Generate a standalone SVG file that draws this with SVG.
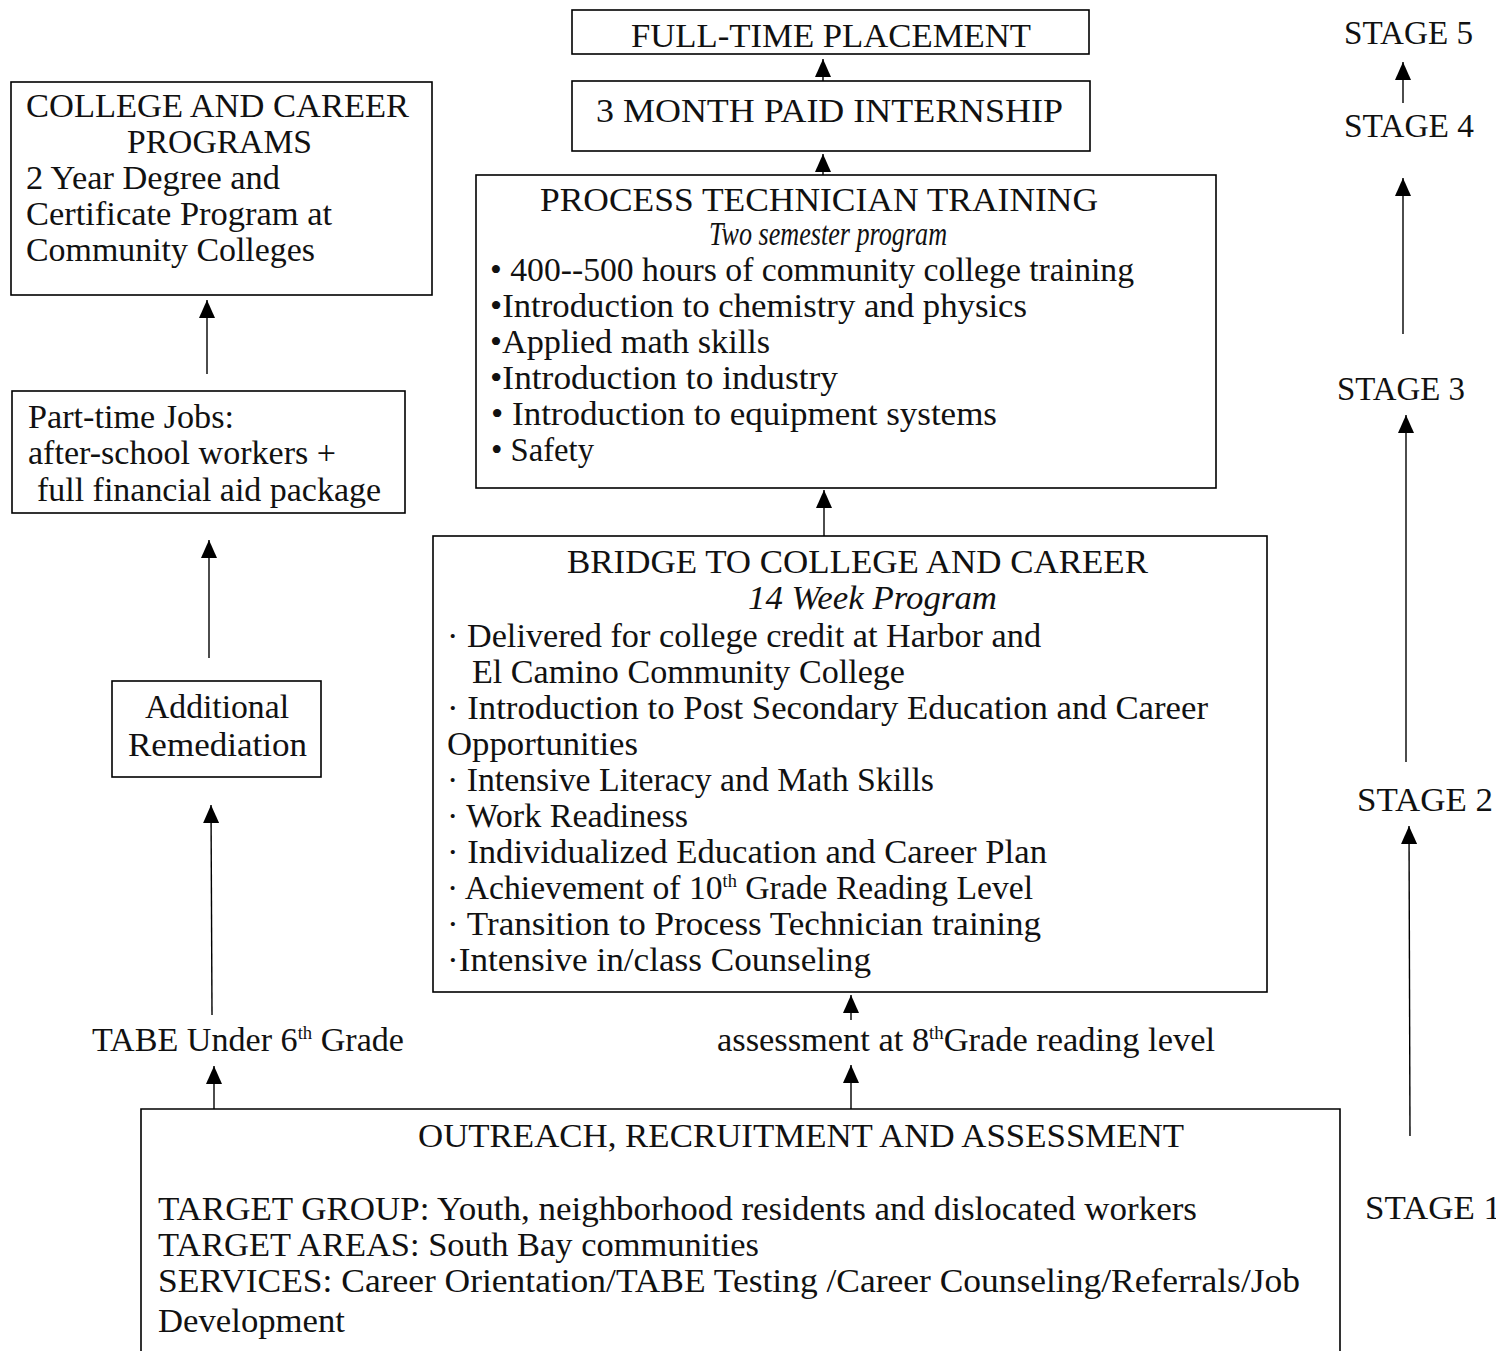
<svg xmlns="http://www.w3.org/2000/svg" width="1496" height="1351" viewBox="0 0 1496 1351">
<defs>
<style>
.box{fill:none;stroke:#000;stroke-width:1.6}
.t{font-family:"Liberation Serif","Times New Roman",serif;font-size:33px;fill:#111}
.it{font-style:italic}
.ln{stroke:#000;stroke-width:1.4;fill:none}
.sup{font-size:18px}
</style>
<marker id="ah" viewBox="0 0 18 16" refX="18" refY="8" markerWidth="18" markerHeight="16" markerUnits="userSpaceOnUse" orient="auto">
<path d="M0,0 L18,8 L0,16 z" fill="#000"/>
</marker>
</defs>
<rect width="1496" height="1351" fill="#fff"/>

<g id="full-time">
<rect class="box" x="572" y="10" width="517" height="44"/>
<text class="t" x="631" y="47" textLength="400" lengthAdjust="spacingAndGlyphs">FULL-TIME PLACEMENT</text>
</g>

<g id="internship">
<rect class="box" x="572" y="81" width="518" height="70"/>
<text class="t" x="596" y="122" textLength="467" lengthAdjust="spacingAndGlyphs">3 MONTH PAID INTERNSHIP</text>
</g>

<g id="process-tech">
<rect class="box" x="476" y="175" width="740" height="313"/>
<text class="t" x="540" y="211" textLength="558" lengthAdjust="spacingAndGlyphs">PROCESS TECHNICIAN TRAINING</text>
<text class="t it" x="709" y="245" font-size="26" textLength="238" lengthAdjust="spacingAndGlyphs">Two semester program</text>
<text class="t" x="490" y="281" textLength="644" lengthAdjust="spacingAndGlyphs">• 400--500 hours of community college training</text>
<text class="t" x="490" y="317" textLength="537" lengthAdjust="spacingAndGlyphs">•Introduction to chemistry and physics</text>
<text class="t" x="490" y="353" textLength="280" lengthAdjust="spacingAndGlyphs">•Applied math skills</text>
<text class="t" x="490" y="389" textLength="348" lengthAdjust="spacingAndGlyphs">•Introduction to industry</text>
<text class="t" x="491" y="425" textLength="506" lengthAdjust="spacingAndGlyphs">• Introduction to equipment systems</text>
<text class="t" x="491" y="461" textLength="103" lengthAdjust="spacingAndGlyphs">• Safety</text>
</g>

<g id="college-career">
<rect class="box" x="11" y="82" width="421" height="213"/>
<text class="t" x="26" y="117" textLength="383" lengthAdjust="spacingAndGlyphs">COLLEGE AND CAREER</text>
<text class="t" x="127" y="153" textLength="185" lengthAdjust="spacingAndGlyphs">PROGRAMS</text>
<text class="t" x="26" y="189" textLength="254" lengthAdjust="spacingAndGlyphs">2 Year Degree and</text>
<text class="t" x="26" y="225" textLength="306" lengthAdjust="spacingAndGlyphs">Certificate Program at</text>
<text class="t" x="26" y="261" textLength="289" lengthAdjust="spacingAndGlyphs">Community Colleges</text>
</g>

<g id="part-time">
<rect class="box" x="12" y="391" width="393" height="122"/>
<text class="t" x="28" y="428" textLength="206" lengthAdjust="spacingAndGlyphs">Part-time Jobs:</text>
<text class="t" x="28" y="464" textLength="308" lengthAdjust="spacingAndGlyphs">after-school workers +</text>
<text class="t" x="37" y="501" textLength="344" lengthAdjust="spacingAndGlyphs">full financial aid package</text>
</g>

<g id="remediation">
<rect class="box" x="112" y="681" width="209" height="96"/>
<text class="t" x="145" y="718" textLength="144" lengthAdjust="spacingAndGlyphs">Additional</text>
<text class="t" x="128" y="756" textLength="179" lengthAdjust="spacingAndGlyphs">Remediation</text>
</g>

<g id="bridge">
<rect class="box" x="433" y="536" width="834" height="456"/>
<text class="t" x="567" y="573" textLength="581" lengthAdjust="spacingAndGlyphs">BRIDGE TO COLLEGE AND CAREER</text>
<text class="t it" x="748" y="609" font-size="30" textLength="249" lengthAdjust="spacingAndGlyphs">14 Week Program</text>
<text class="t" x="447" y="647" textLength="594" lengthAdjust="spacingAndGlyphs">· Delivered for college credit at Harbor and</text>
<text class="t" x="472" y="683" textLength="433" lengthAdjust="spacingAndGlyphs">El Camino Community College</text>
<text class="t" x="447" y="719" textLength="761" lengthAdjust="spacingAndGlyphs">· Introduction to Post Secondary Education and Career</text>
<text class="t" x="447" y="755" textLength="191" lengthAdjust="spacingAndGlyphs">Opportunities</text>
<text class="t" x="447" y="791" textLength="487" lengthAdjust="spacingAndGlyphs">· Intensive Literacy and Math Skills</text>
<text class="t" x="447" y="827" textLength="241" lengthAdjust="spacingAndGlyphs">· Work Readiness</text>
<text class="t" x="447" y="863" textLength="600" lengthAdjust="spacingAndGlyphs">· Individualized Education and Career Plan</text>
<text class="t" x="447" y="899" textLength="586" lengthAdjust="spacingAndGlyphs">· Achievement of 10<tspan class="sup" dy="-12">th</tspan><tspan dy="12"> Grade Reading Level</tspan></text>
<text class="t" x="447" y="935" textLength="594" lengthAdjust="spacingAndGlyphs">· Transition to Process Technician training</text>
<text class="t" x="447" y="971" textLength="424" lengthAdjust="spacingAndGlyphs">·Intensive in/class Counseling</text>
</g>

<g id="outreach">
<path class="box" d="M141,1360 L141,1109 L1340,1109 L1340,1360"/>
<text class="t" x="418" y="1147" textLength="766" lengthAdjust="spacingAndGlyphs">OUTREACH, RECRUITMENT AND ASSESSMENT</text>
<text class="t" x="158" y="1220" textLength="1039" lengthAdjust="spacingAndGlyphs">TARGET GROUP:  Youth, neighborhood residents and dislocated workers</text>
<text class="t" x="158" y="1256" textLength="601" lengthAdjust="spacingAndGlyphs">TARGET AREAS:  South Bay communities</text>
<text class="t" x="158" y="1292" textLength="1142" lengthAdjust="spacingAndGlyphs">SERVICES: Career Orientation/TABE Testing /Career Counseling/Referrals/Job</text>
<text class="t" x="158" y="1332" textLength="187" lengthAdjust="spacingAndGlyphs">Development</text>
</g>

<g id="label-tabe">
<text class="t" x="92" y="1051" textLength="312" lengthAdjust="spacingAndGlyphs">TABE Under 6<tspan class="sup" dy="-12">th</tspan><tspan dy="12"> Grade</tspan></text>
</g>
<g id="label-assessment">
<text class="t" x="717" y="1051" textLength="498" lengthAdjust="spacingAndGlyphs">assessment at 8<tspan class="sup" dy="-12">th</tspan><tspan dy="12">Grade reading level</tspan></text>
</g>

<g id="stage5"><text class="t" x="1344" y="44" font-size="31" textLength="129" lengthAdjust="spacingAndGlyphs">STAGE 5</text></g>
<g id="stage4"><text class="t" x="1344" y="137" font-size="31" textLength="130" lengthAdjust="spacingAndGlyphs">STAGE 4</text></g>
<g id="stage3"><text class="t" x="1337" y="400" font-size="31" textLength="128" lengthAdjust="spacingAndGlyphs">STAGE 3</text></g>
<g id="stage2"><text class="t" x="1357" y="811" font-size="31" textLength="136" lengthAdjust="spacingAndGlyphs">STAGE 2</text></g>
<g id="stage1"><text class="t" x="1365" y="1219" font-size="31" textLength="136" lengthAdjust="spacingAndGlyphs">STAGE 1</text></g>

<g id="connectors">
<line class="ln" x1="823" y1="81" x2="823" y2="59" marker-end="url(#ah)"/>
<line class="ln" x1="823" y1="175" x2="823" y2="154" marker-end="url(#ah)"/>
<line class="ln" x1="824" y1="536" x2="824" y2="490" marker-end="url(#ah)"/>
<line class="ln" x1="851" y1="1020" x2="851" y2="995" marker-end="url(#ah)"/>
<line class="ln" x1="851" y1="1109" x2="851" y2="1065" marker-end="url(#ah)"/>
<line class="ln" x1="214" y1="1109" x2="214" y2="1066" marker-end="url(#ah)"/>
<line class="ln" x1="212" y1="1015" x2="211" y2="805" marker-end="url(#ah)"/>
<line class="ln" x1="209" y1="658" x2="209" y2="540" marker-end="url(#ah)"/>
<line class="ln" x1="207" y1="374" x2="207" y2="300" marker-end="url(#ah)"/>
<line class="ln" x1="1403" y1="103" x2="1403" y2="62" marker-end="url(#ah)"/>
<line class="ln" x1="1403" y1="334" x2="1403" y2="178" marker-end="url(#ah)"/>
<line class="ln" x1="1406" y1="762" x2="1406" y2="415" marker-end="url(#ah)"/>
<line class="ln" x1="1410" y1="1136" x2="1409" y2="826" marker-end="url(#ah)"/>
</g>
</svg>
